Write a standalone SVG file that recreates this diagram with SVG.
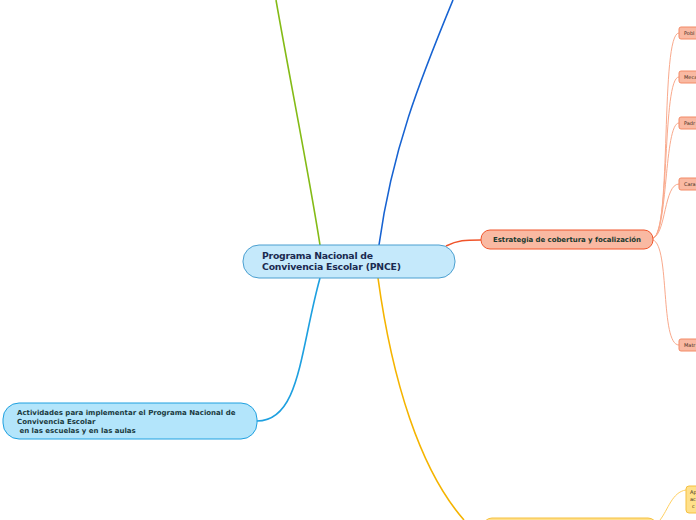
<svg xmlns="http://www.w3.org/2000/svg" width="696" height="520" viewBox="0 0 696 520">
<style>
.t{font-family:"DejaVu Sans",Verdana,sans-serif;font-weight:bold}
.sub{fill:#f9b9a2;stroke:#f38a66;stroke-width:1}
.st{font-family:"DejaVu Sans",Verdana,sans-serif;font-size:5px;fill:#3a2a20}
.sc{fill:none;stroke:#f9a98c;stroke-width:1}
</style>
<rect width="696" height="520" fill="#ffffff"/>
<g id="connectors" fill="none">
<path d="M320,245 C310,180 290,80 276,0" stroke="#84bb16" stroke-width="1.6"/>
<path d="M379,245 C392,150 420,80 453,0" stroke="#1763d2" stroke-width="1.6"/>
<path d="M446,246 C458,240 465,240 481,240" stroke="#f0542a" stroke-width="1.6"/>
<path d="M378,278 C392,380 420,470 464,520" stroke="#f5b400" stroke-width="1.6"/>
<path d="M320,278 C300,350 300,421 257,421" stroke="#1ea0e0" stroke-width="1.6"/>
<path class="sc" d="M653,238 C672,234 660,33 679,33"/>
<path class="sc" d="M653,238 C670,234 662,77 679,77"/>
<path class="sc" d="M653,238 C668,234 664,123 679,123"/>
<path class="sc" d="M653,238 C666,234 664,184 679,184"/>
<path class="sc" d="M653,240 C670,246 660,345 679,345"/>
<path d="M660,520 C668,510 672,492 686,490" stroke="#ffd060" stroke-width="1"/>
</g>
<g id="central">
<rect x="243" y="245" width="212" height="33" rx="16" fill="#c5e9fb" stroke="#4a9fd0" stroke-width="1"/>
<text class="t" x="262" y="259" font-size="9.3" fill="#1a2a50" textLength="111">Programa Nacional de</text>
<text class="t" x="262" y="270" font-size="9.3" fill="#1a2a50" textLength="139">Convivencia Escolar (PNCE)</text>
</g>
<g id="estrategia">
<rect x="481" y="230" width="172" height="19" rx="9" fill="#f9b9a2" stroke="#f0542a" stroke-width="1"/>
<text class="t" x="493" y="242" font-size="7" fill="#1a3a30" textLength="148">Estrategia de cobertura y focalización</text>
</g>
<g id="actividades">
<rect x="3" y="403" width="254" height="36" rx="16" fill="#b3e5fb" stroke="#1ea0e0" stroke-width="1"/>
<text class="t" font-size="7" fill="#1a3a40"><tspan x="17" y="415">Actividades para implementar el Programa Nacional de</tspan><tspan x="17" y="424">Convivencia Escolar</tspan><tspan x="17" y="433"> en las escuelas y en las aulas</tspan></text>
</g>
<g id="bottom-node">
<rect x="483" y="518" width="174" height="20" rx="9" fill="#ffe08a" stroke="#f5c040" stroke-width="1"/>
</g>
<g id="bottom-child">
<rect x="686" y="486" width="40" height="27" rx="3" fill="#ffe08a" stroke="#f5c040" stroke-width="1"/>
<text class="st" x="690" y="494" font-size="4.5">Ap</text>
<text class="st" x="690" y="501" font-size="4.5">ac</text>
<text class="st" x="692" y="508" font-size="4.5">c</text>
</g>
<g id="pobl"><rect class="sub" x="679" y="27" width="40" height="12" rx="2"/><text class="st" x="684" y="35">Pobl</text></g>
<g id="meca"><rect class="sub" x="679" y="71" width="40" height="12" rx="2"/><text class="st" x="684" y="79">Meca</text></g>
<g id="padr"><rect class="sub" x="679" y="117" width="40" height="12" rx="2"/><text class="st" x="684" y="125">Padr</text></g>
<g id="cara"><rect class="sub" x="679" y="178" width="40" height="12" rx="2"/><text class="st" x="684" y="186">Cara</text></g>
<g id="matr"><rect class="sub" x="679" y="339" width="40" height="12" rx="2"/><text class="st" x="684" y="347">Matr</text></g>
</svg>
